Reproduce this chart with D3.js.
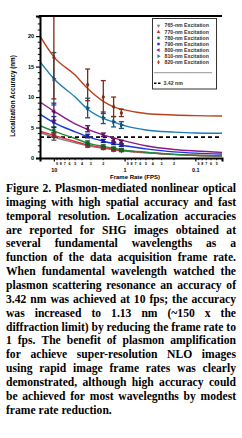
<!DOCTYPE html>
<html>
<head>
<meta charset="utf-8">
<title>Localization accuracy vs frame rate</title>
<script src="https://cdnjs.cloudflare.com/ajax/libs/d3/7.8.5/d3.min.js"></script>
<style>
  body { margin: 0; background: #fff; }
</style>
</head>
<body>
<div id="chart"></div>
<script>
// frame rates where measurements were taken, and where the fitted curves are read
var fpsPts = [10, 3.33, 2, 1.43, 1.11];
var fitFps = [15.7, 10, 5, 3.33, 2, 1.43, 1, 0.5, 0.2, 0.1, 0.042];

var names = ["765-nm Excitation", "770-nm Excitation", "780-nm Excitation", "790-nm Excitation",
             "800-nm Excitation", "810-nm Excitation", "820-nm Excitation"];
var colors = ["#808080", "#e0303c", "#1f8c3a", "#1a35e0", "#8b1a8a", "#1a7db5", "#b8421c"];
var symbols = ["down", "up", "circle", "square", "left", "right", "diamond"];

// mean accuracy (nm) per series at fpsPts
var mean765 = [3.42, 2.0, 1.6, 1.3, 1.18];
var mean770 = [3.8, 2.2, 1.7, 1.45, 1.25];
var mean780 = [4.6, 2.5, 1.95, 1.6, 1.4];
var mean790 = [5.9, 3.6, 2.8, 2.4, 2.1];
var mean800 = [7.6, 4.8, 3.8, 2.9, 2.6];
var mean810 = [13.0, 8.2, 6.6, 5.95, 5.4];
var mean820 = [16.5, 12.0, 10.0, 8.4, 7.4];

// error bars (+/- nm)
var err765 = [0.5, 0.25, 0.2, 0.2, 0.15];
var err770 = [0.4, 0.25, 0.2, 0.2, 0.15];
var err780 = [0.5, 0.3, 0.2, 0.2, 0.15];
var err790 = [0.9, 0.3, 0.25, 0.2, 0.2];
var err800 = [1.4, 0.5, 0.3, 0.3, 0.3];
var err810 = [4.3, 1.6, 0.95, 0.85, 0.55];
var err820 = [6.8, 2.6, 2.7, 1.6, 0.6];

// fitted curves read at fitFps
var fit765 = [4.2, 3.42, 2.5, 2.0, 1.6, 1.35, 1.13, 0.85, 0.55, 0.42, 0.33];
var fit770 = [4.4, 3.7, 2.7, 2.15, 1.7, 1.45, 1.2, 0.9, 0.6, 0.45, 0.35];
var fit780 = [5.3, 4.4, 3.2, 2.45, 1.9, 1.6, 1.3, 0.95, 0.6, 0.45, 0.35];
var fit790 = [7.2, 5.8, 4.3, 3.5, 2.75, 2.35, 2.0, 1.5, 1.0, 0.8, 0.66];
var fit800 = [9.2, 7.7, 5.6, 4.7, 3.8, 3.3, 2.8, 2.0, 1.4, 1.15, 0.93];
var fit810 = [15.8, 13.0, 10.0, 8.0, 6.5, 5.9, 5.3, 4.6, 4.25, 4.1, 4.05];
var fit820 = [20.0, 16.6, 13.6, 11.4, 9.3, 8.4, 7.9, 7.3, 7.05, 6.95, 6.9];

var refLine = 3.42;
var yTicks = [0, 5, 10, 15, 20];
var xTicks = [10, 1, 0.1];

var captionLines = [
  "Figure 2. Plasmon-mediated nonlinear optical",
  "imaging with high spatial accuracy and fast",
  "temporal resolution. Localization accuracies",
  "are reported for SHG images obtained at",
  "several fundamental wavelengths as a",
  "function of the data acquisition frame rate.",
  "When fundamental wavelength watched the",
  "plasmon scattering resonance an accuracy of",
  "3.42 nm was achieved at 10 fps; the accuracy",
  "was increased to 1.13 nm (~150 x the",
  "diffraction limit) by reducing the frame rate to",
  "1 fps. The benefit of plasmon amplification",
  "for achieve super-resolution NLO images",
  "using rapid image frame rates was clearly",
  "demonstrated, although high accuracy could",
  "be achieved for most wavelegnths by modest",
  "frame rate reduction."
];

var means = [mean765, mean770, mean780, mean790, mean800, mean810, mean820];
var errs = [err765, err770, err780, err790, err800, err810, err820];
var fits = [fit765, fit770, fit780, fit790, fit800, fit810, fit820];

var W = 242, H = 438;
// plot box (note: "top" is taken by window.top, so use p-prefixed names)
var pL = 40, pR = 222, pT = 16, pB = 158;

var svg = d3.select("#chart").append("svg")
    .attr("width", W).attr("height", H);

var x = d3.scaleLog().domain([15.7, 0.042]).range([pL, pR]);
var y = d3.scaleLinear().domain([0, 23.3]).range([pB, pT]);

svg.append("clipPath").attr("id", "plotclip")
  .append("rect").attr("x", pL).attr("y", pT - 1)
  .attr("width", pR - pL).attr("height", pB - pT + 1);

var sans = "'Liberation Sans', Arial, sans-serif";

function symbolPath(kind, size) {
  var t = d3.symbolTriangle, rot = 0;
  if (kind == "circle") t = d3.symbolCircle;
  if (kind == "square") t = d3.symbolSquare;
  if (kind == "diamond") t = d3.symbolDiamond;
  if (kind == "down") rot = 180;
  if (kind == "left") rot = -90;
  if (kind == "right") rot = 90;
  return { d: d3.symbol().type(t).size(size)(), rot: rot };
}

// dashed 3.42 nm reference
svg.append("line")
  .attr("x1", pL).attr("x2", pR)
  .attr("y1", y(refLine)).attr("y2", y(refLine))
  .style("stroke", "#000").style("stroke-width", 1.8)
  .style("stroke-dasharray", "4,3");

var plot = svg.append("g").attr("clip-path", "url(#plotclip)");

var line = d3.line()
  .x(function(d) { return x(d[0]); })
  .y(function(d) { return y(d[1]); })
  .curve(d3.curveMonotoneX);

fits.forEach(function(f, i) {
  var pts = fitFps.map(function(v, j) { return [v, f[j]]; });
  plot.append("path")
    .attr("d", line(pts))
    .style("fill", "none")
    .style("stroke", colors[i])
    .style("stroke-width", 1.4);
});

// error bars and markers
means.forEach(function(m, i) {
  var barCol = d3.color(colors[i]).darker(1.1).toString();
  var g = plot.append("g");
  m.forEach(function(v, j) {
    var cx = x(fpsPts[j]);
    var e = errs[i][j];
    g.append("line").attr("x1", cx).attr("x2", cx)
      .attr("y1", y(v + e)).attr("y2", y(v - e))
      .style("stroke", barCol).style("stroke-width", 1.3);
    [v + e, v - e].forEach(function(w) {
      g.append("line").attr("x1", cx - 2.5).attr("x2", cx + 2.5)
        .attr("y1", y(w)).attr("y2", y(w))
        .style("stroke", barCol).style("stroke-width", 1.3);
    });
    var s = symbolPath(symbols[i], 10);
    g.append("path").attr("d", s.d)
      .attr("transform", "translate(" + cx + "," + y(v) + ") rotate(" + s.rot + ")")
      .style("fill", barCol);
  });
});

// y axis
var yAxis = svg.append("g")
  .attr("transform", "translate(" + pL + ",0)")
  .call(d3.axisLeft(y).tickValues(yTicks).tickSize(4).tickPadding(2));
yAxis.select(".domain").style("stroke-width", 2);
yAxis.selectAll(".tick line").style("stroke-width", 1.2);
yAxis.selectAll("text").style("font-family", sans).style("font-size", "5.5px").style("font-weight", "bold");

d3.range(1, 24).filter(function(v) { return v % 5 != 0; }).forEach(function(v) {
  svg.append("line").attr("x1", pL - 2.2).attr("x2", pL)
    .attr("y1", y(v)).attr("y2", y(v))
    .style("stroke", "#000").style("stroke-width", 1);
});

// x axis
var xAxis = svg.append("g")
  .attr("transform", "translate(0," + pB + ")")
  .call(d3.axisBottom(x).tickValues(xTicks).tickSize(3.5).tickPadding(6.5)
        .tickFormat(function(d) { return String(d); }));
xAxis.select(".domain").style("stroke-width", 2);
xAxis.selectAll(".tick line").style("stroke-width", 1.2);
xAxis.selectAll("text").style("font-family", sans).style("font-size", "5.5px").style("font-weight", "bold");

var decades = [10, 1, 0.1];
decades.forEach(function(dec) {
  for (var k = 2; k <= 9; k++) {
    var v = k * dec / 10;
    if (v < 0.042) continue;
    var px = x(v);
    svg.append("line").attr("x1", px).attr("x2", px)
      .attr("y1", pB).attr("y2", pB + 2.2)
      .style("stroke", "#000").style("stroke-width", 0.9);
    svg.append("text").attr("x", px).attr("y", pB + 6.5)
      .attr("text-anchor", "middle")
      .style("font-family", sans).style("font-size", "3.6px").style("font-weight", "bold")
      .text(k);
  }
});

// top frame line
svg.append("line").attr("x1", pL - 1).attr("x2", pR)
  .attr("y1", pT).attr("y2", pT)
  .style("stroke", "#000").style("stroke-width", 2);

// axis titles
svg.append("text")
  .attr("x", (pL + pR) / 2 + 4).attr("y", 179)
  .attr("text-anchor", "middle")
  .style("font-family", sans).style("font-size", "6px").style("font-weight", "bold")
  .text("Frame Rate (FPS)");

svg.append("text")
  .attr("transform", "translate(15,96) rotate(-90)")
  .attr("text-anchor", "middle")
  .style("font-family", sans).style("font-size", "6.3px").style("font-weight", "bold")
  .text("Localization Accuracy (nm)");

// legend
var lg = svg.append("g");
lg.append("rect").attr("x", 152.5).attr("y", 18.5).attr("width", 64).attr("height", 70.5)
  .style("fill", "#fff").style("stroke", "#333").style("stroke-width", 1);
names.forEach(function(n, i) {
  var ly = 25.7 + i * 6.1;
  var s = symbolPath(symbols[i], 6);
  lg.append("path").attr("d", s.d)
    .attr("transform", "translate(158.5," + ly + ") rotate(" + s.rot + ")")
    .style("fill", colors[i]);
  lg.append("text").attr("x", 164.5).attr("y", ly + 1.7)
    .style("font-family", sans).style("font-size", "5.2px").style("font-weight", "bold")
    .style("fill", "#333")
    .text(n);
});
lg.append("line").attr("x1", 154).attr("x2", 212).attr("y1", 72.7).attr("y2", 72.7)
  .style("stroke", "#777").style("stroke-width", 0.8);
lg.append("line").attr("x1", 154).attr("x2", 161).attr("y1", 83.3).attr("y2", 83.3)
  .style("stroke", "#000").style("stroke-width", 1.4).style("stroke-dasharray", "2.5,1.5");
lg.append("text").attr("x", 163.5).attr("y", 85)
  .style("font-family", sans).style("font-size", "5.2px").style("font-weight", "bold")
  .style("fill", "#333")
  .text("3.42 nm");

// caption, justified line by line
var serif = "'Liberation Serif', 'Times New Roman', serif";
var cx0 = 6, cx1 = 236;
var measure = svg.append("text")
  .style("font-family", serif).style("font-size", "11.6px").style("font-weight", "bold");

function wordWidth(w) {
  measure.text(w);
  return measure.node().getComputedTextLength();
}
var spaceW = wordWidth("a b") - wordWidth("ab");

captionLines.forEach(function(ln, i) {
  var words = ln.split(" ");
  var widths = words.map(wordWidth);
  var total = d3.sum(widths);
  var last = i == captionLines.length - 1;
  var gap = (last || words.length < 2) ? spaceW : (cx1 - cx0 - total) / (words.length - 1);
  var t = svg.append("text").attr("y", 192 + i * 13.85)
    .style("font-family", serif).style("font-size", "11.6px").style("font-weight", "bold");
  var px = cx0;
  words.forEach(function(w, j) {
    t.append("tspan").attr("x", px).text(w);
    px += widths[j] + gap;
  });
});
measure.remove();
</script>
</body>
</html>
